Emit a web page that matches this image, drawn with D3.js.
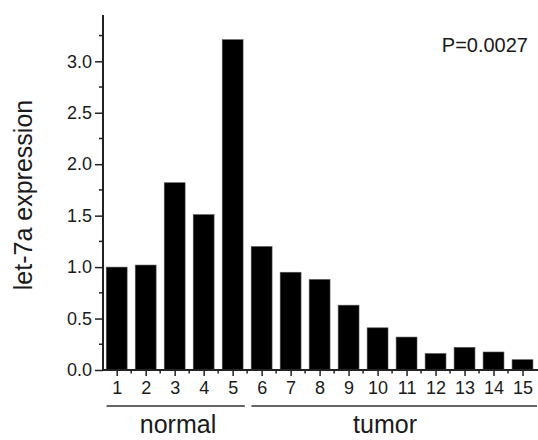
<!DOCTYPE html>
<html>
<head>
<meta charset="utf-8">
<script src="https://cdn.jsdelivr.net/npm/d3@7"></script>
<style>
    body { margin: 0; background: #fff; }
    text { font-family: "Liberation Sans", Arial, sans-serif; fill: #1a1a1a; }
</style>
</head>
<body>
<div id="chart"></div>
<script>
// samples 1..15 and let-7a expression
const samples = [1, 2, 3, 4, 5, 6, 7, 8, 9, 10, 11, 12, 13, 14, 15];
const expression = [1.00, 1.02, 1.82, 1.51, 3.21, 1.20, 0.95, 0.88, 0.63, 0.41, 0.32, 0.16, 0.22, 0.175, 0.10];
const yTicks = [0.0, 0.5, 1.0, 1.5, 2.0, 2.5, 3.0];
const groupNames = ["normal", "tumor"];
const groupStart = [0.65, 5.65];
const groupEnd = [5.42, 15.5];
const pLabel = "P=0.0027";

const w = 538, h = 440;
const margin = { top: 15, right: 1, bottom: 70, left: 103 };

const svg = d3.select("#chart").append("svg")
    .attr("width", w)
    .attr("height", h);

const x = d3.scaleLinear()
    .domain([0.5, 15.5])
    .range([margin.left - 0.8, w - margin.right]);

const y = d3.scaleLinear()
    .domain([0, 3.45])
    .range([h - margin.bottom, margin.top]);

const step = x(2) - x(1);
const barW = step * 0.72;

// BARS
svg.selectAll(".bar")
    .data(samples)
    .enter()
    .append("rect")
    .attr("class", "bar")
    .attr("x", (d) => x(d) - barW / 2)
    .attr("y", (d, i) => y(expression[i]))
    .attr("width", barW)
    .attr("height", (d, i) => y(0) - y(expression[i]))
    .style("fill", "#000")
    .style("stroke", "#555")
    .style("stroke-width", 0.6);

// AXES
const xAxis = svg.append("g")
    .attr("transform", "translate(0," + y(0) + ")")
    .call(d3.axisBottom(x).tickValues(samples).tickFormat(d3.format("d")).tickSize(6).tickSizeOuter(0).tickPadding(6));

// minor x ticks
xAxis.selectAll(".minor")
    .data(d3.range(1.5, 15.5, 1))
    .enter()
    .append("line")
    .attr("class", "minor")
    .attr("x1", (d) => x(d)).attr("x2", (d) => x(d))
    .attr("y1", 0).attr("y2", 3.5)
    .style("stroke", "#222").style("stroke-width", 1.5);

const yAxis = svg.append("g")
    .attr("transform", "translate(" + margin.left + ",0)")
    .call(d3.axisLeft(y).tickValues(yTicks).tickFormat(d3.format(".1f")).tickSize(8).tickSizeOuter(0).tickPadding(3));

// minor y ticks
yAxis.selectAll(".minor")
    .data(d3.range(0.25, 3.45, 0.5))
    .enter()
    .append("line")
    .attr("class", "minor")
    .attr("x1", 0).attr("x2", -4)
    .attr("y1", (d) => y(d)).attr("y2", (d) => y(d))
    .style("stroke", "#222").style("stroke-width", 1.5);

// extend axis lines
yAxis.select(".domain").attr("d", "M0," + (y(0) + 1) + "V" + y(3.45));
xAxis.select(".domain").attr("d", "M" + (margin.left - 1) + ",0H" + w);

svg.selectAll(".domain").style("stroke", "#222").style("stroke-width", 2);
svg.selectAll(".tick line").style("stroke", "#222").style("stroke-width", 1.5);
svg.selectAll(".tick text").style("font-size", "18px").style("fill", "#1a1a1a");
xAxis.selectAll(".tick text").attr("dy", "0.66em");

// GROUP LINES + LABELS
const groups = svg.selectAll(".group")
    .data(groupNames)
    .enter()
    .append("g")
    .attr("class", "group");

groups.append("line")
    .attr("x1", (d, i) => x(groupStart[i]))
    .attr("x2", (d, i) => x(groupEnd[i]))
    .attr("y1", 406).attr("y2", 406)
    .style("stroke", "#333")
    .style("stroke-width", 1.6);

groups.append("text")
    .text((d) => d)
    .attr("x", (d, i) => i == 0 ? 178 : 385)
    .attr("y", 433)
    .style("text-anchor", "middle")
    .style("font-size", "25px");

// AXIS TITLE
svg.append("text")
    .text("let-7a expression")
    .attr("transform", "translate(32,195) rotate(-90)")
    .style("text-anchor", "middle")
    .style("font-size", "25px");

// P value
svg.append("text")
    .text(pLabel)
    .attr("x", 528)
    .attr("y", 52)
    .style("text-anchor", "end")
    .style("font-size", "20px");
</script>
</body>
</html>
